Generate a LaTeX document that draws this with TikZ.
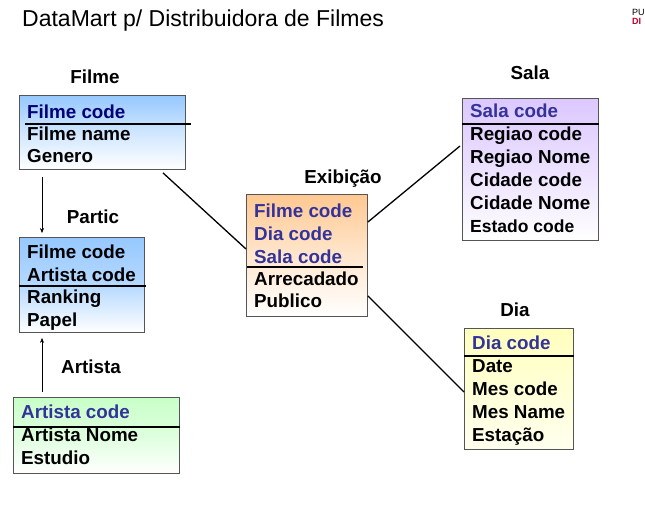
\documentclass[tikz,border=0pt]{standalone}
\usepackage{fontspec}
\setmainfont{Liberation Sans}
\usetikzlibrary{arrows.meta}
\definecolor{hdr}{RGB}{51,51,153}
\definecolor{navyc}{RGB}{0,0,120}
\definecolor{boxline}{RGB}{85,85,85}
\definecolor{cblue}{RGB}{150,200,255}
\definecolor{cgreen}{RGB}{200,255,200}
\definecolor{corange}{RGB}{255,200,145}
\definecolor{cviolet}{RGB}{220,200,255}
\definecolor{cyellow}{RGB}{255,255,190}
\definecolor{dired}{RGB}{190,0,40}
\begin{document}
\begin{tikzpicture}[x=1pt,y=-1pt]
\tikzset{
  box/.style={draw=boxline, line width=0.9pt, anchor=north west, inner sep=0pt},
  sepline/.style={line width=1.4pt, black},
  row/.style={anchor=base west, inner sep=0pt, font=\fontsize{18.8}{20}\selectfont\bfseries},
  lbl/.style={anchor=base, inner sep=0pt, font=\fontsize{18.8}{20}\selectfont\bfseries},
  conn/.style={line width=1.3pt, black},
  arr/.style={line width=0.6pt, -{Stealth[length=5pt,width=4pt]}},
}
\useasboundingbox (0,0) rectangle (645,504);
\fill[white] (0,0) rectangle (645,504);

% title
\node[anchor=base west, inner sep=0pt, font=\fontsize{23}{25}\selectfont] (title) at (22,26) {DataMart p/ Distribuidora de Filmes};
\node[anchor=base west, inner sep=0pt, font=\fontsize{9}{9}\selectfont] (pu) at (632,15) {PU};
\node[anchor=base west, inner sep=0pt, font=\fontsize{9}{9}\selectfont\bfseries, text=dired] (di) at (632,24) {DI};

% boxes
\node[box, minimum width=166pt, minimum height=74pt, top color=cblue, bottom color=white, middle color=cblue!45!white] (filme) at (19,95) {};
\node[box, minimum width=125pt, minimum height=95pt, top color=cblue, bottom color=white, middle color=cblue!70!white] (partic) at (19,237) {};
\node[box, minimum width=166pt, minimum height=76pt, top color=cgreen, bottom color=white, middle color=cgreen!60!white] (artista) at (13,397) {};
\node[box, minimum width=121pt, minimum height=122pt, top color=corange, bottom color=white, middle color=corange!45!white] (exib) at (246,194) {};
\node[box, minimum width=136pt, minimum height=142pt, top color=cviolet, bottom color=white, middle color=cviolet!55!white] (sala) at (462,98) {};
\node[box, minimum width=109pt, minimum height=121pt, top color=cyellow, bottom color=cyellow!25!white] (dia) at (464,328) {};

% separators
\draw[sepline] ([xshift=6pt,yshift=-29pt]filme.north west) -- ([xshift=5pt,yshift=-29pt]filme.north east);
\draw[sepline] ([yshift=-49pt]partic.north west) -- ([xshift=1pt,yshift=-49pt]partic.north east);
\draw[sepline] ([yshift=-30pt]artista.north west) -- ([yshift=-30pt]artista.north east);
\draw[sepline] ([xshift=1pt,yshift=-73pt]exib.north west) -- ([xshift=-5pt,yshift=-73pt]exib.north east);
\draw[sepline] ([yshift=-26pt]sala.north west) -- ([yshift=-26pt]sala.north east);
\draw[sepline] ([yshift=-28pt]dia.north west) -- ([yshift=-28pt]dia.north east);

% labels
\node[lbl] (lfilme) at (95,83.5) {Filme};
\node[lbl] (lpartic) at (93,223.5) {Partic};
\node[lbl] (lartista) at (91,373.5) {Artista};
\node[lbl] (lexib) at (343,183.5) {Exibição};
\node[lbl] (lsala) at (530,79.5) {Sala};
\node[lbl] (ldia) at (515,316.5) {Dia};

% Filme rows
\node[row, text=navyc] (f1) at (27,118.5) {Filme code};
\node[row] (f2) at (27,140.5) {Filme name};
\node[row] (f3) at (27,162.5) {Genero};

% Partic rows
\node[row] (p1) at (27,258.5) {Filme code};
\node[row] (p2) at (27,281.5) {Artista code};
\node[row] (p3) at (27,303.5) {Ranking};
\node[row] (p4) at (27,326.5) {Papel};

% Artista rows
\node[row, text=hdr] (a1) at (21,418.5) {Artista code};
\node[row] (a2) at (21,441.5) {Artista Nome};
\node[row] (a3) at (21,464.5) {Estudio};

% Exibicao rows
\node[row, text=hdr] (e1) at (254,217.5) {Filme code};
\node[row, text=hdr] (e2) at (254,240.5) {Dia code};
\node[row, text=hdr] (e3) at (254,263.5) {Sala code};
\node[row] (e4) at (254,285.5) {Arrecadado};
\node[row] (e5) at (254,307.5) {Publico};

% Sala rows
\node[row, text=hdr] (s1) at (470,117.5) {Sala code};
\node[row] (s2) at (470,140.5) {Regiao code};
\node[row] (s3) at (470,163.5) {Regiao Nome};
\node[row] (s4) at (470,186.5) {Cidade code};
\node[row] (s5) at (470,209.5) {Cidade Nome};
\node[row, font=\fontsize{17.5}{19}\selectfont\bfseries] (s6) at (470,232) {Estado code};

% Dia rows
\node[row, text=hdr] (d1) at (472,349.5) {Dia code};
\node[row] (d2) at (472,372.5) {Date};
\node[row] (d3) at (472,395.5) {Mes code};
\node[row] (d4) at (472,418.5) {Mes Name};
\node[row] (d5) at (472,441.5) {Estação};

% arrows
\draw[arr] ([xshift=23pt,yshift=-7pt]filme.south west) -- ([xshift=23pt,yshift=4pt]partic.north west);
\draw[arr] ([xshift=29pt,yshift=5pt]artista.north west) -- ([xshift=23pt,yshift=-5pt]partic.south west);

% connectors
\draw[conn] ([xshift=144pt,yshift=-3pt]filme.south west) -- ([yshift=-55pt]exib.north west);
\draw[conn] ([yshift=-28pt]exib.north east) -- ([xshift=-2pt,yshift=-48pt]sala.north west);
\draw[conn] ([yshift=21pt]exib.south east) -- ([yshift=-64pt]dia.north west);
\end{tikzpicture}
\end{document}
